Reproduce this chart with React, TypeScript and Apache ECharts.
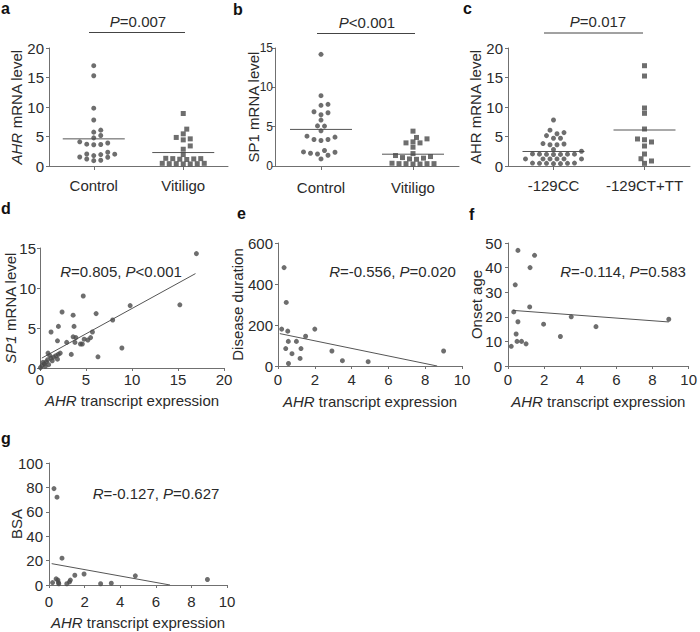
import React, { useEffect, useRef } from "react";
import * as echarts from "echarts";

const FONT = '"Liberation Sans", Arial, Helvetica, sans-serif';
const TEXT = "#2a2a2a";
const AXIS = "#707070";
const DOT = "#4a4a4a";
const FS = 15;

// ---------- Panel a ----------
const aCategories = ["Control", "Vitiligo"];
const aControl = [17.0, 15.3, 9.8, 7.8, 5.74, 6.08, 5.17, 4.77, 4.1, 3.7, 3.6, 3.65, 3.9, 2.33, 2.04, 2.0, 1.94, 1.53, 1.19, 0.91, 0.97, 1.48, 1.77];
const aVitiligo = [8.9, 6.25, 5.45, 4.6, 4.43, 4.84, 3.4, 2.84, 1.94, 1.25, 1.15, 1.3, 1.1, 1.2, 1.25, 0.4, 0.35, 0.45, 0.4, 0.35, 0.4, 0.45];
const aMeans = [4.6, 2.28];
const aYTicks = [0, 5, 10, 15, 20];

// ---------- Panel b ----------
const bCategories = ["Control", "Vitiligo"];
const bControl = [14.2, 8.94, 7.71, 7.84, 6.77, 6.9, 6.51, 5.84, 5.07, 5.1, 4.47, 3.79, 3.37, 3.24, 3.37, 3.67, 1.75, 1.53, 1.97, 1.37, 1.62, 1.79, 0.9];
const bVitiligo = [4.43, 3.63, 3.45, 2.94, 2.94, 3.07, 2.39, 1.58, 1.2, 1.07, 1.33, 0.9, 1.0, 0.85, 0.25, 0.3, 0.3, 0.35, 0.3, 0.25, 0.3];
const bMeans = [4.65, 1.5];
const bYTicks = [0, 5, 10, 15];

// ---------- Panel c ----------
const cCategories = ["-129CC", "-129CT+TT"];
const cCC = [7.8, 6.07, 5.46, 5.66, 4.7, 4.7, 5.15, 3.8, 3.6, 3.6, 3.73, 2.8, 2.5, 2.0, 1.95, 2.0, 1.98, 2.05, 1.96, 2.0, 1.2, 1.2, 1.2, 1.2, 1.2, 1.2, 0.45, 0.5, 0.4, 0.45, 0.5, 0.4, 0.45];
const cCTTT = [17.0, 15.25, 9.83, 8.93, 6.27, 4.45, 4.07, 4.58, 3.39, 2.03, 1.23, 0.85, 0.45];
const cMeans = [2.46, 6.1];
const cYTicks = [0, 5, 10, 15, 20];

// ---------- Panel d ----------
const dPoints = [
  [17, 14.3], [4.7, 9], [9.8, 7.8], [15.2, 7.9], [2.4, 7], [6.1, 6.8], [3.6, 6.6], [7.9, 6],
  [3.7, 5.2], [2.0, 5.2], [1.2, 4.5], [5.7, 4.5], [1.9, 3.4], [2.9, 3.2], [3.6, 3.9], [3.9, 3.8],
  [3.8, 3.2], [4.4, 3.0], [4.6, 3.0], [4.8, 3.6], [5.2, 3.5], [5.5, 3.8], [3.4, 1.7], [6.3, 1.4],
  [8.9, 2.5], [1.9, 1.1], [0.22, 0.29], [0.47, 0.54], [0.68, 0.79], [0.94, 0.42], [0.83, 1.03],
  [1.19, 1.24], [1.33, 0.91], [1.48, 1.36], [1.73, 1.53], [1.98, 1.7], [2.2, 1.86], [0.87, 1.86],
  [1.05, 1.57], [0.58, 0.21], [0.32, 0.71], [0.05, 0.05],
];
const dFit = [[0.2, 1.24], [16.9, 11.8]];
const dXTicks = [0, 5, 10, 15, 20];
const dYTicks = [0, 5, 10, 15];

// ---------- Panel e ----------
const ePoints = [
  [0.33, 480], [0.45, 310], [0.2, 180], [0.53, 170], [0.56, 120], [0.42, 85], [0.57, 12], [0.76, 60],
  [1.0, 120], [1.25, 85], [1.2, 37], [1.5, 145], [2.0, 180], [2.93, 73], [3.5, 26], [4.9, 21], [9.0, 73],
];
const eFit = [[0.1, 158], [8.65, 0]];
const eXTicks = [0, 2, 4, 6, 8, 10];
const eYTicks = [0, 200, 400, 600];

// ---------- Panel f ----------
const fPoints = [
  [0.18, 8], [0.32, 22], [0.4, 33], [0.55, 47], [0.55, 18], [0.45, 13], [0.5, 10], [0.75, 10],
  [1.0, 9], [1.2, 24], [1.22, 40], [1.47, 45], [1.97, 17], [2.9, 12], [3.5, 20], [4.87, 16], [8.9, 19],
];
const fFit = [[0.27, 22.6], [8.9, 17.9]];
const fXTicks = [0, 2, 4, 6, 8, 10];
const fYTicks = [0, 10, 20, 30, 40, 50];

// ---------- Panel g ----------
const gPoints = [
  [0.28, 79], [0.45, 72], [0.73, 22], [0.2, 2], [0.4, 5], [0.5, 4], [0.53, 2], [0.55, 1],
  [1.0, 1], [1.15, 2.5], [1.2, 4], [1.45, 8], [1.97, 9], [2.9, 1], [3.5, 1.5], [4.85, 7.5], [8.9, 4.5],
];
const gFit = [[0.15, 17.5], [6.8, 0]];
const gXTicks = [0, 2, 4, 6, 8, 10];
const gYTicks = [0, 20, 40, 60, 80, 100];

const GRIDS = [
  { left: 49, top: 48, width: 179, height: 118 },
  { left: 275, top: 48, width: 184, height: 118 },
  { left: 508, top: 48, width: 182, height: 118 },
  { left: 40, top: 248, width: 184, height: 120 },
  { left: 278, top: 243, width: 184, height: 123 },
  { left: 508, top: 243, width: 185, height: 123 },
  { left: 49, top: 463, width: 178, height: 122 },
];

const italicRich = {
  i: { fontStyle: "italic", fontSize: FS, fontFamily: FONT, color: TEXT, fill: TEXT },
};

// Column-scatter (beeswarm) offsets: ascending values, nearest free half-slot to the centre,
// with an elliptical collision zone (rx horizontally, ry vertically, in pixels).
function swarm(values: number[], unitPx: number, rx: number, ry: number, step: number): number[] {
  const order = values.map((_, i) => i).sort((p, q) => values[p] - values[q]);
  const placed: { x: number; y: number }[] = [];
  const out = new Array(values.length).fill(0);
  const cands: number[] = [0];
  for (let k = 1; k < 40; k++) cands.push(k * step, -k * step);
  for (const i of order) {
    const y = values[i] * unitPx;
    let chosen = 0;
    for (const c of cands) {
      const ok = placed.every((p) => ((p.x - c) / rx) ** 2 + ((p.y - y) / ry) ** 2 >= 0.999);
      if (ok) {
        chosen = c;
        break;
      }
    }
    placed.push({ x: chosen, y });
    out[i] = chosen;
  }
  return out;
}

function axisCommon() {
  return {
    axisLine: { show: true, onZero: false, lineStyle: { color: AXIS, width: 1 } },
    axisTick: { show: true, length: 3, lineStyle: { color: AXIS, width: 1 } },
    splitLine: { show: false },
    axisLabel: { color: TEXT, fontSize: FS, fontFamily: FONT },
  };
}

function buildOption() {
  const xAxis: any[] = [];
  const yAxis: any[] = [];
  const series: any[] = [];

  const catPanels = [
    { cats: aCategories, groups: [aControl, aVitiligo], means: aMeans, ticks: aYTicks, name: "{i|AHR} mRNA level", gap: 33, margin: 12, yfs: FS, ym: 5 },
    { cats: bCategories, groups: [bControl, bVitiligo], means: bMeans, ticks: bYTicks, name: "SP1 mRNA level", gap: 22, margin: 14, yfs: 12, ym: 2 },
    { cats: cCategories, groups: [cCC, cCTTT], means: cMeans, ticks: cYTicks, name: "AHR mRNA level", gap: 33, margin: 12, yfs: FS, ym: 5 },
  ];
  const symbols = ["circle", "rect"];

  catPanels.forEach((p, gi) => {
    const g = GRIDS[gi];
    const min = p.ticks[0];
    const max = p.ticks[p.ticks.length - 1];
    const interval = p.ticks[1] - p.ticks[0];
    xAxis.push({
      gridIndex: gi,
      type: "category",
      data: p.cats,
      ...axisCommon(),
      axisTick: { show: true, alignWithLabel: true, length: 4, lineStyle: { color: AXIS } },
      axisLabel: { color: TEXT, fontSize: FS, fontFamily: FONT, margin: p.margin, interval: 0, hideOverlap: false },
    });
    const valIdx = xAxis.length;
    xAxis.push({ gridIndex: gi, type: "value", min: 0, max: 2, show: false });
    const yIdx = yAxis.length;
    yAxis.push({
      gridIndex: gi,
      type: "value",
      min,
      max,
      interval,
      ...axisCommon(),
      axisLabel: { color: TEXT, fontSize: p.yfs, fontFamily: FONT, margin: p.ym },
      name: p.name,
      nameLocation: "middle",
      nameRotate: 90,
      nameGap: p.gap,
      nameMoveOverlap: false,
      nameTextStyle: { color: TEXT, fontSize: FS, fontFamily: FONT, verticalAlign: "middle", rich: italicRich },
    });
    const unitPx = g.height / (max - min);
    const xUnitPx = g.width / 2;
    p.groups.forEach((vals, k) => {
      const offs = swarm(vals, unitPx, 7, 5, 3.5);
      series.push({
        type: "scatter",
        xAxisIndex: valIdx,
        yAxisIndex: yIdx,
        symbol: symbols[k],
        symbolSize: 5,
        itemStyle: { color: DOT },
        data: vals.map((v, i) => [k + 0.5 + offs[i] / xUnitPx, v]),
        z: 3,
      });
      const hw = 31 / xUnitPx;
      series.push({
        type: "line",
        xAxisIndex: valIdx,
        yAxisIndex: yIdx,
        symbol: "none",
        lineStyle: { color: "#555", width: 1 },
        data: [[k + 0.5 - hw, p.means[k]], [k + 0.5 + hw, p.means[k]]],
        z: 2,
      });
    });
  });

  const scPanels = [
    { pts: dPoints, fit: dFit, xt: dXTicks, yt: dYTicks, yName: "{i|SP1} mRNA level", yGap: 30, xGap: 32, xMargin: 4, yMargin: 4 },
    { pts: ePoints, fit: eFit, xt: eXTicks, yt: eYTicks, yName: "Disease duration", yGap: 41, xGap: 35, xMargin: 6, yMargin: 5 },
    { pts: fPoints, fit: fFit, xt: fXTicks, yt: fYTicks, yName: "Onset age", yGap: 32, xGap: 35, xMargin: 6, yMargin: 6 },
    { pts: gPoints, fit: gFit, xt: gXTicks, yt: gYTicks, yName: "BSA", yGap: 33, xGap: 37, xMargin: 9, yMargin: 6 },
  ];

  scPanels.forEach((p, k) => {
    const gi = 3 + k;
    const xIdx = xAxis.length;
    xAxis.push({
      gridIndex: gi,
      type: "value",
      min: p.xt[0],
      max: p.xt[p.xt.length - 1],
      interval: p.xt[1] - p.xt[0],
      ...axisCommon(),
      axisLabel: { color: TEXT, fontSize: FS, fontFamily: FONT, margin: p.xMargin, showMinLabel: true, showMaxLabel: true },
      name: "{i|AHR} transcript expression",
      nameLocation: "middle",
      nameGap: p.xGap,
      nameMoveOverlap: false,
      nameTextStyle: { color: TEXT, fontSize: FS, fontFamily: FONT, verticalAlign: "middle", rich: italicRich },
    });
    const yIdx = yAxis.length;
    yAxis.push({
      gridIndex: gi,
      type: "value",
      min: p.yt[0],
      max: p.yt[p.yt.length - 1],
      interval: p.yt[1] - p.yt[0],
      ...axisCommon(),
      axisLabel: { color: TEXT, fontSize: FS, fontFamily: FONT, margin: p.yMargin },
      name: p.yName,
      nameLocation: "middle",
      nameRotate: 90,
      nameGap: p.yGap,
      nameMoveOverlap: false,
      nameTextStyle: { color: TEXT, fontSize: FS, fontFamily: FONT, verticalAlign: "middle", rich: italicRich },
    });
    series.push({
      type: "scatter",
      xAxisIndex: xIdx,
      yAxisIndex: yIdx,
      symbol: "circle",
      symbolSize: 5,
      itemStyle: { color: DOT },
      data: p.pts,
      z: 3,
    });
    series.push({
      type: "line",
      xAxisIndex: xIdx,
      yAxisIndex: yIdx,
      symbol: "none",
      lineStyle: { color: "#555", width: 1 },
      data: p.fit,
      z: 2,
    });
  });

  const txt = (text: string, x: number, y: number, opts: any = {}) => ({
    type: "text",
    x,
    y,
    silent: true,
    style: {
      text,
      fill: TEXT,
      fontSize: FS,
      fontFamily: FONT,
      align: "center",
      verticalAlign: "middle",
      rich: italicRich,
      ...opts,
    },
  });

  const letters: [string, number, number][] = [
    ["a", 1, 8], ["b", 233, 9], ["c", 463, 8],
    ["d", 1, 208], ["e", 237, 213.5], ["f", 469, 214.5], ["g", 1, 438],
  ];

  const graphic: any[] = [
    ...letters.map(([t, x, y]) => txt(t, x, y, { align: "left", fontWeight: "bold", fontSize: 16, fill: "#111" })),
    txt("{i|P}=0.007", 138, 21),
    txt("{i|P}<0.001", 367, 22.5),
    txt("{i|P}=0.017", 598, 21),
    { type: "line", silent: true, shape: { x1: 89, y1: 32.5, x2: 185, y2: 32.5 }, style: { stroke: "#444", lineWidth: 1 } },
    { type: "line", silent: true, shape: { x1: 317, y1: 33.5, x2: 415, y2: 33.5 }, style: { stroke: "#444", lineWidth: 1 } },
    { type: "line", silent: true, shape: { x1: 544, y1: 33, x2: 643, y2: 33 }, style: { stroke: "#444", lineWidth: 1 } },
    txt("{i|R}=0.805, {i|P}<0.001", 121, 271),
    txt("{i|R}=-0.556, {i|P}=0.020", 392.5, 271),
    txt("{i|R}=-0.114, {i|P}=0.583", 623, 271),
    txt("{i|R}=-0.127, {i|P}=0.627", 156, 493),
  ];

  return {
    animation: false,
    backgroundColor: "#ffffff",
    textStyle: { fontFamily: FONT },
    grid: GRIDS.map((g) => ({ ...g, containLabel: false })),
    xAxis,
    yAxis,
    series,
    graphic,
  };
}

export default function App() {
  const ref = useRef<HTMLDivElement>(null);
  useEffect(() => {
    document.body.style.margin = "0";
    if (!ref.current) return;
    const chart = echarts.init(ref.current, undefined, { renderer: "svg" });
    chart.setOption(buildOption() as any);
    return () => chart.dispose();
  }, []);
  return <div ref={ref} style={{ width: 700, height: 632 }} />;
}
